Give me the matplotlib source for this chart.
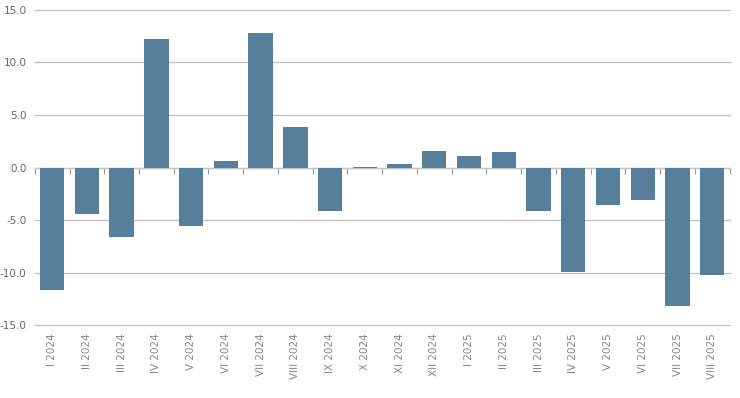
import matplotlib
matplotlib.use('Agg')
import matplotlib.pyplot as plt
import numpy as np

# 月ラベルと値
months = ['I 2024', 'II 2024', 'III 2024', 'IV 2024', 'V 2024', 'VI 2024',
          'VII 2024', 'VIII 2024', 'IX 2024', 'X 2024', 'XI 2024', 'XII 2024',
          'I 2025', 'II 2025', 'III 2025', 'IV 2025', 'V 2025', 'VI 2025',
          'VII 2025', 'VIII 2025']
values = [-11.7, -4.4, -6.6, 12.2, -5.6, 0.6, 12.8, 3.9, -4.1, 0.1,
          0.3, 1.6, 1.1, 1.5, -4.1, -9.9, -3.6, -3.1, -13.2, -10.2]
y_ticks = [-15.0, -10.0, -5.0, 0.0, 5.0, 10.0, 15.0]

fig = plt.figure(figsize=(7.4, 3.98), dpi=100)
ax = fig.add_axes([0.047, 0.183, 0.939, 0.792])

x = np.arange(len(months))
ax.bar(x, values, width=0.7, color='#577f9c', zorder=3)

ax.set_xlim(-0.5, len(months) - 0.5)
ax.set_ylim(-15, 15)
ax.set_yticks(y_ticks)
ax.set_yticklabels([f'{v:.1f}' for v in y_ticks], fontsize=7.5, color='#666666')
ax.tick_params(axis='y', length=0, pad=6)

# グリッド
ax.grid(axis='y', color='#c4c4c4', linewidth=1, zorder=0)
ax.set_axisbelow(True)
for line in ax.get_ygridlines():
    line.set_clip_on(False)
for s in ax.spines.values():
    s.set_visible(False)

# 下側ラベル
ax.set_xticks(x)
ax.set_xticklabels(months, rotation=90, fontsize=7.5, color='#888888')
ax.tick_params(axis='x', length=0, pad=6)

# ゼロライン（区切り目盛り付き）
zero = ax.secondary_xaxis(0, transform=ax.transData)
zero.spines['bottom'].set_color('#999999')
zero.set_xticks(np.arange(-0.5, len(months), 1.0))
zero.set_xticklabels([])
zero.tick_params(axis='x', length=4, color='#999999', direction='out')

plt.savefig('out.png', dpi=100, facecolor='white')
